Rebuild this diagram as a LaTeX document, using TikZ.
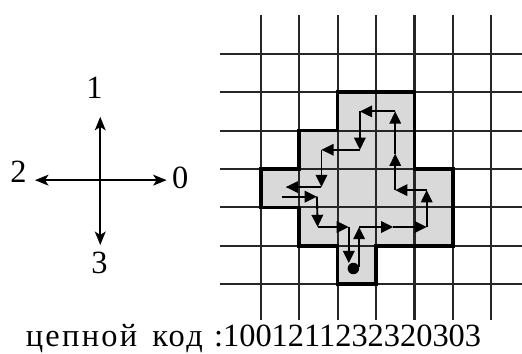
\documentclass[tikz,border=0pt]{standalone}
\usepackage{fontspec}
\setmainfont{Liberation Serif}
\usetikzlibrary{arrows.meta}

\begin{document}
\begin{tikzpicture}[line width=1pt,
  gridline/.style={black!85,line width=1.6pt},
  chain/.style={-{Triangle[length=9pt,width=8.5pt]},line width=1.4pt},
  dirarrow/.style={-{Stealth[length=10pt,width=8pt,inset=2.5pt]},line width=1.4pt},
  lbl/.style={font=\fontsize{24}{28}\selectfont,inner sep=0pt}]
  \useasboundingbox (-6.79,-1.80) rectangle (6.80,7.40);
  % figura
  \fill[black!15] (2,5)--(4,5)--(4,3)--(5,3)--(5,1)--(3,1)--(3,0)--(2,0)--(2,1)--(1,1)--(1,2)--(0,2)--(0,3)--(1,3)--(1,4)--(2,4)--cycle;
  % rejilla
  \foreach \y in {0,...,6} \draw[gridline] (-1.05,\y)--(6.8,\y);
  \foreach \x in {0,...,6} \draw[gridline] (\x,-0.93)--(\x,7.0);
  \draw[line width=2.6pt,line join=miter] (2,5)--(4,5)--(4,3)--(5,3)--(5,1)--(3,1)--(3,0)--(2,0)--(2,1)--(1,1)--(1,2)--(0,2)--(0,3)--(1,3)--(1,4)--(2,4)--cycle;
  % direcciones
  \coordinate (o) at (-4.18,2.71);
  \coordinate (e0) at (-2.45,2.71); \coordinate (e1) at (-4.18,4.36);
  \coordinate (e2) at (-5.88,2.71); \coordinate (e3) at (-4.18,1.02);
  \draw[dirarrow] (o)--(e0); \draw[dirarrow] (o)--(e1);
  \draw[dirarrow] (o)--(e2); \draw[dirarrow] (o)--(e3);
  \node[lbl] (d0) at (-2.10,2.76){0}; \node[lbl] (d1) at (-4.33,5.12){1};
  \node[lbl] (d2) at (-6.31,2.92){2}; \node[lbl] (d3) at (-4.20,0.55){3};
  % cadena
  \coordinate (p0) at (2.56,0.45); \coordinate (p1) at (2.56,1.49);
  \coordinate (p2) at (3.45,1.49); \coordinate (p3) at (4.32,1.49);
  \coordinate (p4) at (4.32,2.45); \coordinate (p5) at (3.50,2.45);
  \coordinate (p6) at (3.50,3.40); \coordinate (p7) at (3.50,4.50);
  \coordinate (p8) at (2.58,4.50); \coordinate (p9) at (2.58,3.50);
  \coordinate (p10) at (1.58,3.50); \coordinate (p11) at (1.58,2.53);
  \coordinate (p12) at (0.65,2.53); \coordinate (q12) at (0.55,2.28);
  \coordinate (p13) at (1.46,2.28); \coordinate (p14) at (1.48,1.49);
  \coordinate (p15) at (2.29,1.49); \coordinate (p16) at (2.29,0.55);
  \draw[chain] (p0)--(p1); \draw[chain] (p1)--(p2); \draw[chain] (p2)--(p3);
  \draw[chain] (p3)--(p4); \draw[chain] (p4)--(p5); \draw[chain] (p5)--(p6);
  \draw[chain] (p6)--(p7); \draw[chain] (p7)--(p8); \draw[chain] (p8)--(p9);
  \draw[chain] (p9)--(p10); \draw[chain] (p10)--(p11); \draw[chain] (p11)--(p12);
  \draw[chain] (q12)--(p13); \draw[chain] (p13)--(p14); \draw[chain] (p14)--(p15);
  \draw[chain] (p15)--(p16);
  \node[circle,fill,inner sep=0pt,minimum size=8.5pt] (start) at (2.41,0.41){};
  % codigo
  \node[lbl,anchor=base] (code) at (-0.19,-1.63){{\addfontfeature{LetterSpace=7}цепной\hspace{0.15em} код\hspace{0.1em}} :1001211232320303};
\end{tikzpicture}
\end{document}
